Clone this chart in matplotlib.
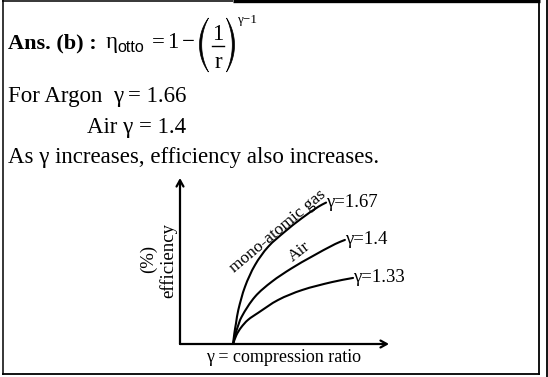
"""Otto-cycle answer card: text block plus schematic efficiency vs compression ratio."""
import numpy as np
import matplotlib
matplotlib.use("Agg")
import matplotlib.pyplot as plt
from matplotlib.path import Path
from matplotlib.patches import PathPatch

plt.rcParams["font.family"] = ["Liberation Serif", "DejaVu Serif"]

W, H = 548, 377

# schematic curves (x: compression ratio, y: efficiency %, arbitrary scale)
LABELS = ["γ=1.67", "γ=1.4", "γ=1.33"]
R_MONO = [2.54, 2.60, 2.68, 2.79, 3.11, 3.59, 4.22, 5.02, 5.82, 6.62, 6.99]
EFF_MONO = [0.0, 6.4, 12.5, 20.5, 34.5, 47.6, 58.6, 67.7, 75.7, 82.7, 85.2]
R_AIR = [2.54, 2.62, 2.71, 2.95, 3.59, 4.39, 5.34, 6.30, 7.42, 7.89]
EFF_AIR = [0.0, 4.5, 8.4, 16.4, 28.5, 37.5, 45.6, 52.6, 60.2, 62.7]
R_133 = [2.54, 2.70, 2.92, 3.25, 3.73, 4.69, 5.84, 7.27, 8.28]
EFF_133 = [0.0, 5.4, 9.9, 14.5, 18.7, 26.5, 32.5, 37.3, 39.8]


def smooth(ax, x, y, sx, sy, **kw):
    # cubic pieces through the read points, tangents from neighbours (in pixel-like space)
    p = np.column_stack([np.asarray(x) * sx, np.asarray(y) * sy])
    n = len(p)
    d = np.linalg.norm(np.diff(p, axis=0), axis=1)
    t = np.zeros_like(p)
    for i in range(n):
        v = p[min(i + 1, n - 1)] - p[max(i - 1, 0)]
        t[i] = v / np.linalg.norm(v)
    verts, codes = [p[0]], [Path.MOVETO]
    for i in range(n - 1):
        verts += [p[i] + t[i] * d[i] / 3, p[i + 1] - t[i + 1] * d[i] / 3, p[i + 1]]
        codes += [Path.CURVE4] * 3
    verts = np.array(verts) / [sx, sy]
    ax.add_patch(PathPatch(Path(verts, codes), fill=False, clip_on=False, **kw))


def paren(ax, x_chord, yc, half, sag, thick, sign):
    # tall bracket as a thin crescent; sign=-1 bulges left "(", +1 bulges right ")"
    def arc(s):
        R = (half ** 2 + s ** 2) / (2 * s)
        th = np.linspace(-np.arcsin(half / R), np.arcsin(half / R), 40)
        cx = x_chord - sign * (R - s)
        return cx + sign * R * np.cos(th), yc + R * np.sin(th)
    xo, yo = arc(sag)
    xi, yi = arc(sag - thick)
    ax.fill(np.r_[xo, xi[::-1]], np.r_[yo, yi[::-1]], color="black", lw=0.5)


fig = plt.figure(figsize=(W / 100, H / 100), dpi=100)
page = fig.add_axes([0, 0, 1, 1])
page.set_xlim(0, W); page.set_ylim(H, 0); page.axis("off")

# frame of the answer cell
k = dict(color="black", solid_capstyle="butt")
page.plot([3, 3], [0, 374.5], lw=1.1, **k)
page.plot([2.3, 539.5], [374.3, 374.3], lw=1.3, **k)
page.plot([539.2, 539.2], [0, 375], lw=1.3, **k)
page.plot([546.7, 546.7], [0, H], lw=1.3, **k)
page.plot([2.3, 233], [0.6, 0.6], lw=1.1, **k)
page.plot([233, 540], [1.0, 1.0], lw=2.4, **k)

# text block
fs = 16.5
page.text(8, 48, "Ans. (b) :", fontsize=16, fontweight="bold", va="baseline")
page.text(106, 48, "η", fontsize=fs, va="baseline")
page.text(117.5, 52.5, "otto", fontsize=11.5, family="Liberation Sans", va="baseline")
page.text(151.5, 48, "=", fontsize=fs, va="baseline")
page.text(167, 48, "1", fontsize=fs, va="baseline")
page.text(182, 48, "−", fontsize=fs, va="baseline")
paren(page, 208.5, 45, 27, 9, 2.2, -1)
paren(page, 226.5, 45, 27, 8, 2.2, 1)
page.text(217.5, 39.5, "1", fontsize=fs, va="baseline", ha="center")
page.plot([212, 223.5], [46, 46], color="black", lw=1.0)
page.text(218, 68, "r", fontsize=fs, va="baseline", ha="center")
page.text(237, 23, "γ−1", fontsize=9.5, va="baseline")
page.text(8, 102, "For Argon", fontsize=fs, va="baseline")
page.text(113, 102, "γ", fontsize=fs, va="baseline")
page.text(128, 102, "= 1.66", fontsize=fs, va="baseline")
page.text(87, 133, "Air γ = 1.4", fontsize=fs, va="baseline")
page.text(8, 163, "As γ increases, efficiency also increases.", fontsize=fs, va="baseline")

# schematic diagram
ax = fig.add_axes([180 / W, (H - 344) / H, (389 - 180) / W, (344 - 178) / H])
ax.set_xlim(0, 10); ax.set_ylim(0, 100); ax.axis("off")
for xy in [(0, 1), (1, 0)]:
    ax.annotate("", xy=xy, xytext=(0, 0), xycoords="axes fraction",
                arrowprops=dict(arrowstyle="->,head_length=0.45,head_width=0.25", lw=1.6,
                                color="black", shrinkA=0, shrinkB=0))

for r, e, lab in zip([R_MONO, R_AIR, R_133], [EFF_MONO, EFF_AIR, EFF_133], LABELS):
    smooth(ax, r, e, 20.9, 1.66, edgecolor="black", lw=1.5, capstyle="round")
    ax.text(r[-1] + 0.02, e[-1], lab, fontsize=13.5, ha="left", va="center")

page.text(278, 231, "mono-atomic gas", fontsize=12.5, rotation=40, rotation_mode="anchor",
          ha="center", va="center")
page.text(299, 252, "Air", fontsize=12.5, rotation=38, rotation_mode="anchor",
          ha="center", va="center")
page.text(168, 261, "efficiency", fontsize=13.5, rotation=90, ha="center", va="center")
page.text(148, 259, "(%)", fontsize=13.5, rotation=90, ha="center", va="center")
page.text(283.5, 362, "γ = compression ratio", fontsize=13, ha="center", va="baseline")

fig.savefig("out.png", dpi=100)
